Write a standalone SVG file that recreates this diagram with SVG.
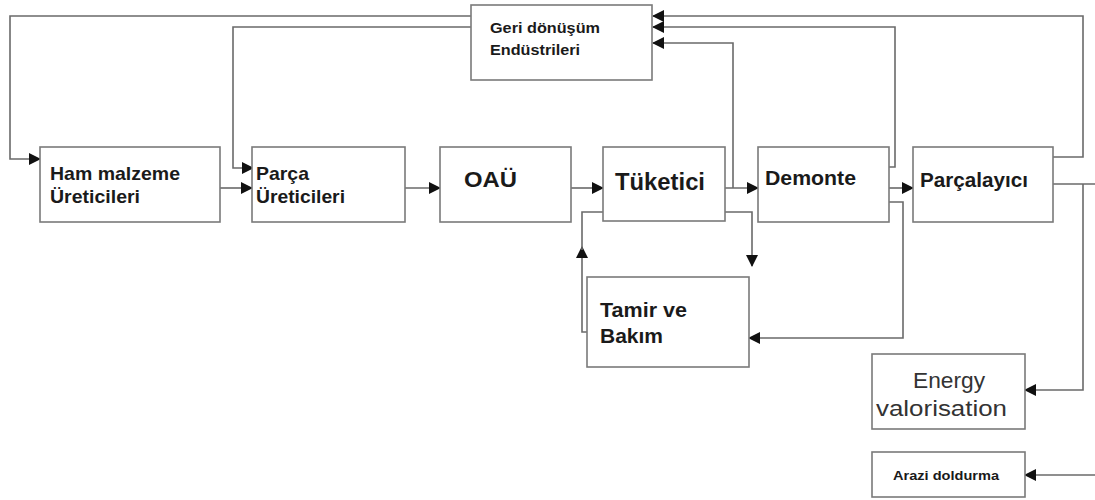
<svg xmlns="http://www.w3.org/2000/svg" width="1095" height="500" viewBox="0 0 1095 500">
<defs>
<marker id="ah" markerUnits="userSpaceOnUse" markerWidth="12" markerHeight="12" refX="11" refY="6" orient="auto">
<path d="M0,0 L12,6 L0,12 z" fill="#111"/>
</marker>
<style>
.box{fill:#fff;stroke:#7a7a7a;stroke-width:1.6}
.c{fill:none;stroke:#6a6a6a;stroke-width:1.6}
.a{marker-end:url(#ah)}
.t{font-family:"Liberation Sans",Arial,sans-serif;font-weight:bold;fill:#1a1a1a}
.n{font-family:"Liberation Sans",Arial,sans-serif;fill:#333}
text,tspan{}
</style>
</defs>
<rect width="1095" height="500" fill="#fff"/>
<g id="connectors">
<path class="c a" d="M1053,157 H1083 V16 H653"/>
<path class="c a" d="M471,16 H10 V159 H40"/>
<path class="c a" d="M889,167 H895 V27 H653"/>
<path class="c a" d="M471,27 H233 V168 H253"/>
<path class="c a" d="M733,188 V43 H653"/>
<path class="c a" d="M220,188 H252"/>
<path class="c a" d="M405,188 H440"/>
<path class="c a" d="M571,188 H603"/>
<path class="c a" d="M725,188 H758"/>
<path class="c a" d="M889,188 H913"/>
<path class="c a" d="M725,212 H752 V266"/>
<path class="c a" d="M587,332 H582 V247"/>
<path class="c" d="M582,250 V212 H603"/>
<path class="c a" d="M889,202 H903 V338 H749"/>
<path class="c" d="M1053,184 H1095"/>
<path class="c a" d="M1083,184 V390 H1025"/>
<path class="c a" d="M1095,475 H1025"/>
</g>
<g id="geri">
<rect class="box" x="471" y="5" width="181" height="75"/>
<text class="t" font-size="15" fill="#222"><tspan x="490" y="33" textLength="110" lengthAdjust="spacingAndGlyphs">Geri dönüşüm</tspan><tspan x="490" y="55" textLength="90" lengthAdjust="spacingAndGlyphs">Endüstrileri</tspan></text>
</g>
<g id="ham">
<rect class="box" x="40" y="147" width="180" height="75"/>
<text class="t" font-size="18.5"><tspan x="50" y="180" textLength="130" lengthAdjust="spacingAndGlyphs">Ham malzeme</tspan><tspan x="50" y="203" textLength="90" lengthAdjust="spacingAndGlyphs">Üreticileri</tspan></text>
</g>
<g id="parca">
<rect class="box" x="252" y="147" width="153" height="75"/>
<text class="t" font-size="18.5"><tspan x="256" y="180" textLength="53" lengthAdjust="spacingAndGlyphs">Parça</tspan><tspan x="256" y="203" textLength="89" lengthAdjust="spacingAndGlyphs">Üreticileri</tspan></text>
</g>
<g id="oau">
<rect class="box" x="440" y="147" width="131" height="75"/>
<text class="t" font-size="22" x="464" y="187" textLength="53" lengthAdjust="spacingAndGlyphs">OAÜ</text>
</g>
<g id="tuketici">
<rect class="box" x="603" y="147" width="122" height="74"/>
<text class="t" font-size="23" x="615" y="190" textLength="90" lengthAdjust="spacingAndGlyphs">Tüketici</text>
</g>
<g id="demonte">
<rect class="box" x="758" y="147" width="131" height="75"/>
<text class="t" font-size="20" x="765" y="185" textLength="91" lengthAdjust="spacingAndGlyphs">Demonte</text>
</g>
<g id="parcalayici">
<rect class="box" x="913" y="147" width="140" height="75"/>
<text class="t" font-size="20" x="920" y="187" textLength="108" lengthAdjust="spacingAndGlyphs">Parçalayıcı</text>
</g>
<g id="tamir">
<rect class="box" x="587" y="277" width="162" height="90"/>
<text class="t" font-size="19.5"><tspan x="600" y="317" textLength="87" lengthAdjust="spacingAndGlyphs">Tamir ve</tspan><tspan x="600" y="343" textLength="63" lengthAdjust="spacingAndGlyphs">Bakım</tspan></text>
</g>
<g id="energy">
<rect class="box" x="872" y="354" width="153" height="75"/>
<text class="n" font-size="22.5"><tspan x="913" y="388" textLength="72" lengthAdjust="spacingAndGlyphs">Energy</tspan><tspan x="876" y="416" textLength="131" lengthAdjust="spacingAndGlyphs">valorisation</tspan></text>
</g>
<g id="arazi">
<rect class="box" x="872" y="452" width="153" height="45"/>
<text class="t" font-size="13" x="893" y="480" textLength="106" lengthAdjust="spacingAndGlyphs">Arazi doldurma</text>
</g>
</svg>
